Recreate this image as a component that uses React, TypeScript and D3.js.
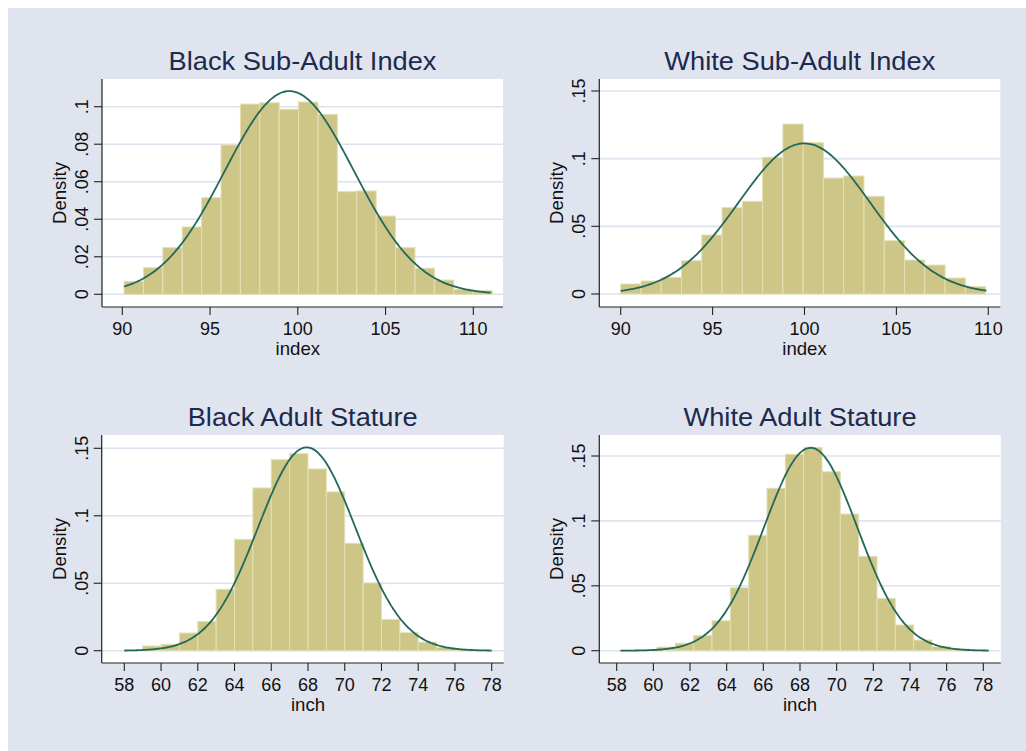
import React from 'react';
import * as d3 from 'd3';

// histogram densities, one array per panel
const blackIndexDensity = [0.0069, 0.0142, 0.0249, 0.0359, 0.0515, 0.0796, 0.1014, 0.1021, 0.0986, 0.1025,
    0.0959, 0.0547, 0.0551, 0.0417, 0.0249, 0.0139, 0.0076, 0.0027, 0.002];
const whiteIndexDensity = [0.0074, 0.0096, 0.0123, 0.0246, 0.0436, 0.0638, 0.0685, 0.101, 0.1256, 0.1118,
    0.0857, 0.0872, 0.0722, 0.0394, 0.0251, 0.0214, 0.0118, 0.0054];
const blackStatureDensity = [0.0035, 0.0047, 0.0131, 0.0217, 0.0455, 0.0825, 0.1206, 0.1416, 0.146, 0.1347,
    0.1177, 0.0796, 0.0502, 0.0232, 0.0133, 0.0064, 0.0025, 0.0012, 0.0005];
const whiteStatureDensity = [0.0003, 0.0005, 0.0028, 0.0057, 0.0116, 0.0231, 0.0485, 0.0889, 0.1251, 0.1513,
    0.1567, 0.1379, 0.1053, 0.0727, 0.0403, 0.0198, 0.0082, 0.0031, 0.0013, 0.0005];

const titles = ['Black Sub-Adult Index', 'White Sub-Adult Index', 'Black Adult Stature', 'White Adult Stature'];
const xLabels = ['index', 'index', 'inch', 'inch'];

const indexTicks = [90, 95, 100, 105, 110];
const statureTicks = [58, 60, 62, 64, 66, 68, 70, 72, 74, 76, 78];
const blackIndexYTicks = [0, 0.02, 0.04, 0.06, 0.08, 0.1];
const otherYTicks = [0, 0.05, 0.1, 0.15];

// bin start / width, fitted normal (mean, sd) and curve range
const binStarts = [90.1, 90, 59, 58.2];
const binWidths = [1.105, 1.103, 1, 1];
const normalMeans = [99.52, 99.99, 67.93, 68.58];
const normalSds = [3.683, 3.584, 2.647, 2.551];
const curveRanges = [[90.1, 111.0], [90, 109.9], [58, 78], [58.2, 78.3]];

const BG = '#e0e4ef';
const GRID = '#dde2ee';
const FILL = '#cdc687';
const EDGE = '#e4e0b4';
const LINE = '#23685b';
const TITLE = '#1c2a4d';
const FONT = '"Liberation Sans", Arial, sans-serif';

const fmt = (v) => v === 0 ? '0' : String(v).replace(/^0/, '');

function Panel({left, top, width, height, xDomain, xRange, yDomain, yRange, xTicks, yTicks,
                   density, binStart, binWidth, mean, sd, curveRange, title, xLabel}) {
    const x = d3.scaleLinear().domain(xDomain).range(xRange);
    const y = d3.scaleLinear().domain(yDomain).range(yRange);
    const pdf = (v) => Math.exp(-0.5 * ((v - mean) / sd) ** 2) / (sd * Math.sqrt(2 * Math.PI));
    const pts = d3.range(0, 201).map(i => curveRange[0] + (curveRange[1] - curveRange[0]) * i / 200);
    const line = d3.line().x(d => x(d)).y(d => y(pdf(d))).curve(d3.curveBasis);
    const bottom = height;
    return (
        <g transform={`translate(${left},${top})`}>
            {/* stata's title font is a touch wider than Liberation Sans */}
            <text transform={`translate(${width / 2},-9) scale(1.09,1)`} textAnchor="middle"
                  fontSize="25" fill={TITLE}>{title}</text>
            <rect x={0} y={0} width={width} height={height} fill="white"/>
            {yTicks.map(t => (
                <line key={'g' + t} x1={0} x2={width} y1={y(t)} y2={y(t)} stroke={GRID} strokeWidth="1.6"/>
            ))}
            {density.map((d, i) => {
                const x0 = x(binStart + i * binWidth), x1 = x(binStart + (i + 1) * binWidth);
                return <rect key={i} x={x0} y={y(d)} width={x1 - x0} height={y(0) - y(d)}
                             fill={FILL} stroke={EDGE} strokeWidth="1"/>;
            })}
            <path d={line(pts)} fill="none" stroke={LINE} strokeWidth="1.8"/>
            <line x1={0} x2={0} y1={0} y2={bottom} stroke="#222" strokeWidth="1.2"/>
            <line x1={0} x2={width} y1={bottom} y2={bottom} stroke="#222" strokeWidth="1.2"/>
            {yTicks.map(t => (
                <g key={'y' + t}>
                    <line x1={-8} x2={0} y1={y(t)} y2={y(t)} stroke="#222" strokeWidth="1.1"/>
                    <text transform={`translate(-14,${y(t)}) rotate(-90)`} textAnchor="middle"
                          fontSize="18" fill="#111">{fmt(t)}</text>
                </g>
            ))}
            {xTicks.map(t => (
                <g key={'x' + t}>
                    <line x1={x(t)} x2={x(t)} y1={bottom} y2={bottom + 8} stroke="#222" strokeWidth="1.1"/>
                    <text x={x(t)} y={bottom + 28} textAnchor="middle" fontSize="18" fill="#111">{t}</text>
                </g>
            ))}
            <text x={x((xDomain[0] + xDomain[1]) / 2)} y={bottom + 48} textAnchor="middle"
                  fontSize="18.6" fill="#111">{xLabel}</text>
            <text transform={`translate(-36,${height / 2}) rotate(-90)`} textAnchor="middle"
                  fontSize="18.6" fill="#111">Density</text>
        </g>
    );
}

export default function App() {
    const panels = [
        {left: 102, top: 79, width: 401, height: 228, xDomain: [90, 110], xRange: [20.3, 371.3],
            yDomain: [0, 0.1], yRange: [215.3, 27.7], xTicks: indexTicks, yTicks: blackIndexYTicks,
            density: blackIndexDensity},
        {left: 599.3, top: 79, width: 401, height: 228, xDomain: [90, 110], xRange: [21.4, 389],
            yDomain: [0, 0.15], yRange: [215, 12], xTicks: indexTicks, yTicks: otherYTicks,
            density: whiteIndexDensity},
        {left: 101.7, top: 435, width: 402, height: 228, xDomain: [58, 78], xRange: [22.6, 390],
            yDomain: [0, 0.15], yRange: [215.7, 13.3], xTicks: statureTicks, yTicks: otherYTicks,
            density: blackStatureDensity},
        {left: 599.3, top: 435, width: 401.5, height: 228, xDomain: [58, 78], xRange: [17.4, 384],
            yDomain: [0, 0.15], yRange: [215.7, 21], xTicks: statureTicks, yTicks: otherYTicks,
            density: whiteStatureDensity},
    ];
    return (
        <div style={{position: 'absolute', left: 0, top: 0}}>
            <svg width={1026} height={751} style={{display: 'block'}} fontFamily={FONT}>
                <rect x={0} y={0} width={1026} height={751} fill="white"/>
                <rect x={8} y={8} width={1018} height={743} fill={BG}/>
                {panels.map((p, i) => (
                    <Panel key={i} {...p} binStart={binStarts[i]} binWidth={binWidths[i]}
                           mean={normalMeans[i]} sd={normalSds[i]} curveRange={curveRanges[i]}
                           title={titles[i]} xLabel={xLabels[i]}/>
                ))}
            </svg>
        </div>
    );
}
